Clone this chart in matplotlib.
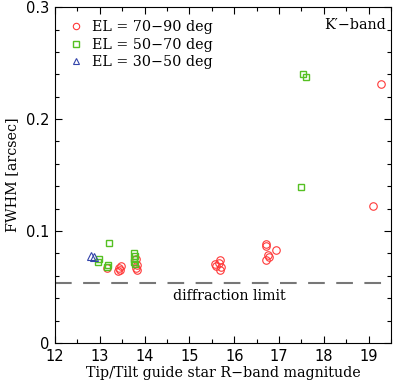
import matplotlib
matplotlib.use("Agg")
import matplotlib.pyplot as plt
from matplotlib.ticker import MultipleLocator, FixedLocator

# EL = 70-90 deg
mag_hi = [19.27, 19.09, 15.58, 15.60, 15.65, 15.69, 15.71, 15.69,
          16.72, 16.70, 16.94, 16.75, 16.77, 16.71,
          13.17, 13.42, 13.47, 13.40, 13.44, 13.81, 13.83, 13.80, 13.84]
fwhm_hi = [0.231, 0.122, 0.0705, 0.069, 0.0714, 0.074, 0.068, 0.065,
           0.088, 0.087, 0.083, 0.079, 0.077, 0.074,
           0.0667, 0.0667, 0.0688, 0.0643, 0.065, 0.075, 0.070, 0.0667, 0.065]

# EL = 50-70 deg
mag_mid = [17.54, 17.61, 17.50, 13.21, 12.98, 12.97, 13.19, 13.17,
           13.77, 13.79, 13.77, 13.76, 13.79]
fwhm_mid = [0.240, 0.238, 0.139, 0.089, 0.075, 0.0726, 0.070, 0.0676,
            0.080, 0.078, 0.075, 0.0726, 0.071]

# EL = 30-50 deg
mag_lo = [12.80, 12.86]
fwhm_lo = [0.078, 0.0765]

diff_limit = 0.054

serif = "DejaVu Serif"
fs = 10.3

fig = plt.figure(figsize=(3.93, 3.83), dpi=100)
ax = fig.add_axes([0.14, 0.1044, 0.855, 0.877])

ax.plot(mag_hi, fwhm_hi, "o", ms=5.4, mfc="none", mec="#ff3838", mew=0.8,
        label="EL = 70\u221290 deg")
ax.plot(mag_mid, fwhm_mid, "s", ms=4.8, mfc="none", mec="#55c022", mew=1.0,
        label="EL = 50\u221270 deg")
ax.plot(mag_lo, fwhm_lo, "^", ms=5.4, mfc="none", mec="#3344aa", mew=0.8,
        label="EL = 30\u221250 deg")

ax.axhline(diff_limit, color="#777777", lw=1.5, dashes=(8, 5.5))
ax.text(15.9, diff_limit - 0.006, "diffraction limit", ha="center", va="top",
        family=serif, fontsize=fs)
ax.text(19.38, 0.284, "K\u2032\u2212band", ha="right", va="center",
        family=serif, fontsize=fs)

ax.set_xlim(12, 19.5)
ax.set_ylim(0, 0.3)
ax.xaxis.set_major_locator(MultipleLocator(1))
ax.xaxis.set_minor_locator(MultipleLocator(0.5))
ax.yaxis.set_major_locator(FixedLocator([0, 0.1, 0.2, 0.3]))
ax.yaxis.set_minor_locator(MultipleLocator(0.02))
ax.set_yticklabels(["0", "0.1", "0.2", "0.3"])
ax.tick_params(which="both", direction="in", top=True, right=True,
               labelsize=10.5, width=0.8, pad=4)
ax.tick_params(which="major", length=5)
ax.tick_params(which="minor", length=2.8)
for s in ax.spines.values():
    s.set_linewidth(0.8)

ax.set_xlabel("Tip/Tilt guide star R\u2212band magnitude", family=serif,
              fontsize=fs, labelpad=2)
ax.set_ylabel("FWHM [arcsec]", family=serif, fontsize=fs, labelpad=5)

leg = ax.legend(loc="upper left", frameon=False, prop={"family": serif, "size": fs},
                handletextpad=0.5, borderaxespad=0.5, labelspacing=0.25,
                handlelength=1.2, markerscale=0.85)

fig.savefig("out.png", dpi=100)
